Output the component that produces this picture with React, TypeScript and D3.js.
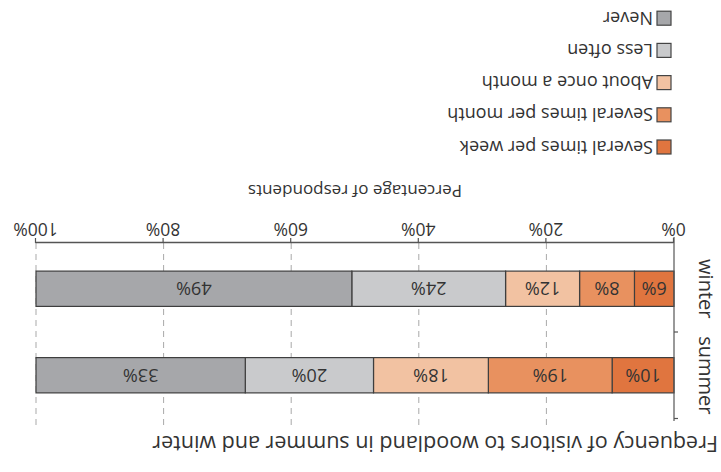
import { axisBottom, scaleBand, scaleLinear, select, stack } from "d3";
import { useEffect, useRef } from "react";

const seasons = ["summer", "winter"];
const categories = [
  "Several times per week",
  "Several times per month",
  "About once a month",
  "Less often",
  "Never",
];
// bar lengths as drawn (unrounded), and the rounded labels printed on them
const summerValues = [9.7, 19.4, 18.0, 20.1, 32.8];
const winterValues = [6.2, 8.6, 11.6, 24.1, 49.5];
const summerLabels = [10, 19, 18, 20, 33];
const winterLabels = [6, 8, 12, 24, 49];
const xTicks = [0, 20, 40, 60, 80, 100];
const colors = ["#e0753f", "#e8915f", "#f2c2a2", "#c9cacc", "#a6a7aa"];

const WIDTH = 721;
const HEIGHT = 472;
const FONT = "'Open Sans', sans-serif";

const App = () => {
  const ref = useRef<SVGSVGElement>(null);

  useEffect(() => {
    if (!ref.current) return;
    const svg = select(ref.current);
    svg.selectAll("*").remove();

    // the whole picture is upside down
    const root = svg
      .append("g")
      .attr("transform", `rotate(180 ${WIDTH / 2} ${HEIGHT / 2})`)
      .style("font-family", FONT);

    const rows = seasons.map((s, i) => {
      const vals = i === 0 ? summerValues : winterValues;
      const labels = i === 0 ? summerLabels : winterLabels;
      const row: Record<string, any> = { season: s, labels };
      categories.forEach((c, j) => (row[c] = vals[j]));
      return row;
    });

    const x = scaleLinear().domain([0, 100]).range([47, 685]);
    const y = scaleBand<string>()
      .domain(seasons)
      .range([51, 229])
      .paddingInner(0.592)
      .paddingOuter(0.325);

    const [y0, y1] = y.range();

    // dashed grid
    root
      .append("g")
      .selectAll("line")
      .data(xTicks.slice(1))
      .join("line")
      .attr("x1", (d) => x(d))
      .attr("x2", (d) => x(d))
      .attr("y1", y1)
      .attr("y2", y0 - 6)
      .attr("stroke", "#a9a9a9")
      .attr("stroke-width", 1)
      .attr("stroke-dasharray", "6,5");

    // stacked bars
    const series = stack<any>().keys(categories)(rows);
    const layer = root
      .append("g")
      .selectAll("g")
      .data(series)
      .join("g")
      .attr("fill", (_, i) => colors[i]);

    layer
      .selectAll("rect")
      .data((d) => d.map((p) => p))
      .join("rect")
      .attr("x", (p) => x(p[0]))
      .attr("width", (p) => x(p[1]) - x(p[0]))
      .attr("y", (p) => y(p.data.season)!)
      .attr("height", y.bandwidth())
      .attr("stroke", "#3e3e3e")
      .attr("stroke-width", 1.2);

    layer
      .selectAll("text")
      .data((d, k) => d.map((p) => ({ p, k })))
      .join("text")
      .attr("x", ({ p }) => (x(p[0]) + x(p[1])) / 2)
      .attr("y", ({ p }) => y(p.data.season)! + y.bandwidth() / 2)
      .attr("dy", "0.36em")
      .attr("text-anchor", "middle")
      .attr("fill", "#333")
      .attr("font-size", 18)
      .text(({ p, k }) => `${p.data.labels[k]}%`);

    // x axis
    const xAxis = axisBottom(x)
      .tickValues(xTicks)
      .tickSize(5)
      .tickSizeOuter(0)
      .tickFormat((d) => `${d}%`);
    const gx = root
      .append("g")
      .attr("transform", `translate(0,${y1})`)
      .call(xAxis);
    gx.select(".domain").attr("stroke", "#555").attr("stroke-width", 1.5);
    gx.selectAll(".tick line").attr("stroke", "#555").attr("stroke-width", 1.2);
    gx.selectAll(".tick text")
      .attr("font-family", FONT)
      .attr("font-size", 17.5)
      .attr("fill", "#333");

    // y axis line with band boundary ticks
    const step = y.step();
    const yAxis = root.append("g").attr("stroke", "#555").attr("stroke-width", 1.2);
    yAxis
      .append("line")
      .attr("x1", x(0))
      .attr("x2", x(0))
      .attr("y1", y0)
      .attr("y2", y1 + 6);
    yAxis
      .selectAll(".yt")
      .data(seasons)
      .join("line")
      .classed("yt", true)
      .attr("x1", x(0) - 4)
      .attr("x2", x(0))
      .attr("y1", (d) => y(d)! + y.bandwidth() / 2 - step / 2)
      .attr("y2", (d) => y(d)! + y.bandwidth() / 2 - step / 2);

    root
      .append("g")
      .selectAll("text")
      .data(seasons)
      .join("text")
      .attr(
        "transform",
        (d) => `translate(15,${y(d)! + y.bandwidth() / 2}) rotate(-90)`
      )
      .attr("text-anchor", "middle")
      .attr("dy", "0.35em")
      .attr("font-size", 20)
      .attr("fill", "#333")
      .text((d) => d);

    // titles
    root
      .append("text")
      .attr("x", 3)
      .attr("y", 36)
      .attr("font-size", 21.5)
      .attr("fill", "#333")
      .text("Frequency of visitors to woodland in summer and winter");

    root
      .append("text")
      .attr("x", (x(0) + x(100)) / 2)
      .attr("y", 287)
      .attr("text-anchor", "middle")
      .attr("font-size", 17)
      .attr("fill", "#333")
      .text("Percentage of respondents");

    // legend
    const legend = root
      .append("g")
      .selectAll("g")
      .data(categories)
      .join("g")
      .attr("transform", (_, i) => `translate(50,${325 + i * 32.2})`);
    legend
      .append("rect")
      .attr("x", 0)
      .attr("y", -7)
      .attr("width", 14)
      .attr("height", 14)
      .attr("fill", (_, i) => colors[i])
      .attr("stroke", "#444")
      .attr("stroke-width", 1.2);
    legend
      .append("text")
      .attr("x", 18)
      .attr("dy", "0.35em")
      .attr("font-size", 18)
      .attr("fill", "#333")
      .text((d) => d);
  }, []);

  return (
    <svg
      ref={ref}
      width={WIDTH}
      height={HEIGHT}
      style={{ position: "absolute", left: 0, top: 0, background: "#fff" }}
    />
  );
};

export default App;
